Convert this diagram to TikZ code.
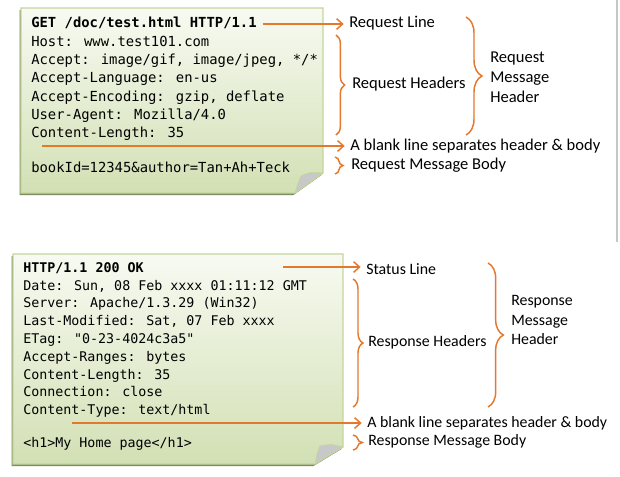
\documentclass[tikz,border=0pt]{standalone}
\usepackage{fontspec}
\setmainfont{Carlito}
\newfontfamily\codefont{DejaVu Sans Mono}
\usetikzlibrary{positioning, arrows.meta, decorations.pathreplacing}

\definecolor{noteedge}{HTML}{C3D69B}
\definecolor{notetop}{HTML}{F8FAF2}
\definecolor{notebot}{HTML}{D2E0B4}
\definecolor{hint}{RGB}{228,120,45}
\definecolor{curl}{HTML}{C8C8C8}

\begin{document}
\begin{tikzpicture}[x=0.75pt, y=-0.75pt,
  note/.style={draw=noteedge, line width=0.8pt, top color=notetop, bottom color=notebot},
  noteshadow/.style={fill=black!35!noteedge, draw=none},
  fold/.style={fill=curl, draw=noteedge, line width=0.5pt},
  reqcode/.style={font=\codefont\fontsize{10.4}{12}\selectfont, inner sep=0pt,
                  text height=9.6pt, text depth=3.75pt, anchor=west},
  rescode/.style={font=\codefont\fontsize{10}{12}\selectfont, inner sep=0pt,
                  text height=9.3pt, text depth=3.64pt, anchor=west},
  reqlbl/.style={font=\fontsize{12.4}{15}\selectfont, inner sep=1.5pt, anchor=west, align=left},
  reslbl/.style={font=\fontsize{11.9}{14.6}\selectfont, inner sep=1.5pt, anchor=west, align=left},
  arr/.style={draw=hint, line width=1.1pt, -{Straight Barb[length=4.5pt, width=8pt]},
              shorten >=2.5pt},
  brc/.style={draw=hint, line width=1.1pt, decorate, decoration={brace, amplitude=#1}},
]
\useasboundingbox (0,0) rectangle (620,476);

% Request note
\fill[noteshadow, shift={(-1.5,2)}] (21,8) -- (323,8) -- (323,173) -- (295,193) -- (21,193) -- cycle;
\path[note] (21,8) -- (323,8) -- (323,173) -- (295,193) -- (21,193) -- cycle;
\filldraw[fold] (323,173) .. controls (310,172) .. (301,176) .. controls (298,183) .. (295,193) -- cycle;

\node[reqcode] (reqline) at (31,24) {\textbf{GET /doc/test.html HTTP/1.1}};
\node[reqcode, below=0pt of reqline.south west, anchor=north west] (reqh1) {Host: www.test101.com};
\node[reqcode, below=0pt of reqh1.south west, anchor=north west] (reqh2) {Accept: image/gif, image/jpeg, */*};
\node[reqcode, below=0pt of reqh2.south west, anchor=north west] (reqh3) {Accept-Language: en-us};
\node[reqcode, below=0pt of reqh3.south west, anchor=north west] (reqh4) {Accept-Encoding: gzip, deflate};
\node[reqcode, below=0pt of reqh4.south west, anchor=north west] (reqh5) {User-Agent: Mozilla/4.0};
\node[reqcode, below=0pt of reqh5.south west, anchor=north west] (reqh6) {Content-Length: 35};
\node[reqcode, below=12pt of reqh6.south west, anchor=north west] (reqbody) {bookId=12345\&author=Tan+Ah+Teck};
\coordinate (reqgap) at (42,146);

% Request labels
\node[reqlbl] (reqlinelbl) at (347,23) {Request Line};
\node[reqlbl] (reqhdrlbl) at (350,84) {Request Headers};
\node[reqlbl] (reqmsglbl) at (488,77) {Request\\Message\\Header};
\node[reqlbl] (reqgaplbl) at (348,146) {A blank line separates header \& body};
\node[reqlbl] (reqbodylbl) at (349,165) {Request Message Body};

\draw[arr, shorten <=4.5pt] (reqline.east) -- (reqline.east -| reqlinelbl.west);
\draw[arr] (reqgap) -- (reqgap -| reqgaplbl.west);
\draw[brc=6.5pt] (336,35) -- (336,135);
\draw[brc=12pt] (466,17) -- (466,135);
\draw[brc=6pt] (335,157) -- (335,174);

% Response note
\fill[noteshadow, shift={(-1.5,2)}] (13,254) -- (343,254) -- (343,447) -- (315,464) -- (13,464) -- cycle;
\path[note] (13,254) -- (343,254) -- (343,447) -- (315,464) -- (13,464) -- cycle;
\filldraw[fold] (343,447) .. controls (331,444) .. (320,446) .. controls (317,454) .. (315,464) -- cycle;

\node[rescode] (resline) at (23,268.5) {\textbf{HTTP/1.1 200 OK}};
\node[rescode, below=0pt of resline.south west, anchor=north west] (resh1) {Date: Sun, 08 Feb xxxx 01:11:12 GMT};
\node[rescode, below=0pt of resh1.south west, anchor=north west] (resh2) {Server: Apache/1.3.29 (Win32)};
\node[rescode, below=0pt of resh2.south west, anchor=north west] (resh3) {Last-Modified: Sat, 07 Feb xxxx};
\node[rescode, below=0pt of resh3.south west, anchor=north west] (resh4) {ETag: "0-23-4024c3a5"};
\node[rescode, below=0pt of resh4.south west, anchor=north west] (resh5) {Accept-Ranges: bytes};
\node[rescode, below=0pt of resh5.south west, anchor=north west] (resh6) {Content-Length: 35};
\node[rescode, below=0pt of resh6.south west, anchor=north west] (resh7) {Connection: close};
\node[rescode, below=0pt of resh7.south west, anchor=north west] (resh8) {Content-Type: text/html};
\node[rescode, below=11pt of resh8.south west, anchor=north west] (resbody) {<h1>My Home page</h1>};
\coordinate (resstat) at (283,267);
\coordinate (resgap) at (72,423);

% Response labels
\node[reslbl] (reslinelbl) at (364,269) {Status Line};
\node[reslbl] (reshdrlbl) at (366,342) {Response Headers};
\node[reslbl] (resmsglbl) at (509,320) {Response\\Message\\Header};
\node[reslbl] (resgaplbl) at (365,423) {A blank line separates header \& body};
\node[reslbl] (resbodylbl) at (366,441) {Response Message Body};

\draw[arr] (resstat) -- (resstat -| reslinelbl.west);
\draw[arr] (resgap) -- (resgap -| resgaplbl.west);
\draw[brc=7.5pt] (353,279) -- (353,407);
\draw[brc=11.5pt] (488,263) -- (488,407);
\draw[brc=7pt] (353,435) -- (353,450);

% page edge
\draw[black!22, line width=1.5pt] (616.5,0) -- (616.5,242);
\end{tikzpicture}
\end{document}
